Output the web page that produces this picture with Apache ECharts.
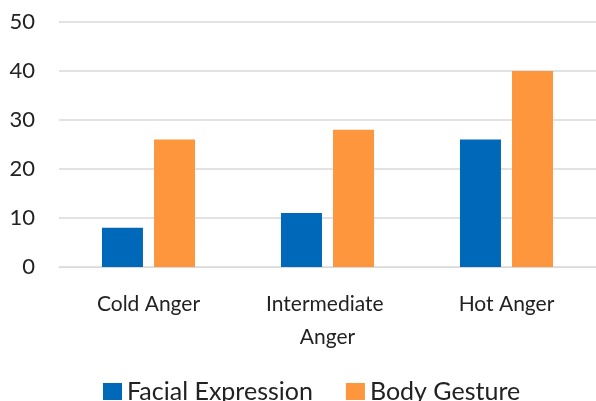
<!DOCTYPE html>
<html>
<head>
<meta charset="utf-8">
<script src="https://cdn.jsdelivr.net/npm/echarts@6/dist/echarts.min.js"></script>
<style>
  html, body { margin: 0; padding: 0; background: #fff; }
  #chart { width: 596px; height: 401px; }
</style>
</head>
<body>
<div id="chart"></div>
<script>
// Anger categories and the counts recorded for each modality
const categories = ['Cold Anger', 'Intermediate Anger', 'Hot Anger'];
const facialExpression = [8, 11, 26];
const bodyGesture = [26, 28, 40];
const yTicks = { min: 0, max: 50, interval: 10 };

const FONT = 'Lato';
const chart = echarts.init(document.getElementById('chart'));
chart.setOption({
  animation: false,
  backgroundColor: '#ffffff',
  textStyle: { fontFamily: FONT },
  grid: { left: 59, top: 22, width: 547, height: 245, containLabel: false },
  legend: {
    left: 103,
    top: 379,
    padding: 0,
    itemWidth: 19,
    itemHeight: 17,
    itemGap: 33,
    icon: 'rect',
    textStyle: { fontFamily: FONT, fontSize: 25, color: '#222' },
    data: ['Facial Expression', 'Body Gesture']
  },
  xAxis: {
    type: 'category',
    data: categories,
    axisLine: { show: true, lineStyle: { color: '#d9d9d9', width: 1 } },
    axisTick: { show: false },
    axisLabel: {
      interval: 0,
      margin: 21,
      fontFamily: FONT,
      fontSize: 21,
      lineHeight: 33,
      color: '#222',
      width: 150,
      overflow: 'break'
    }
  },
  yAxis: {
    type: 'value',
    min: yTicks.min,
    max: yTicks.max,
    interval: yTicks.interval,
    axisLine: { show: false },
    axisTick: { show: false },
    splitLine: { lineStyle: { color: '#d9d9d9', width: 1.5 } },
    axisLabel: { margin: 24, fontFamily: FONT, fontSize: 22, color: '#222' }
  },
  series: [
    {
      name: 'Facial Expression',
      type: 'bar',
      data: facialExpression,
      itemStyle: { color: '#0068b8' },
      barWidth: 41,
      barGap: '27%'
    },
    {
      name: 'Body Gesture',
      type: 'bar',
      data: bodyGesture,
      itemStyle: { color: '#fd963c' },
      barWidth: 41,
      barGap: '27%'
    }
  ]
});
</script>
</body>
</html>
